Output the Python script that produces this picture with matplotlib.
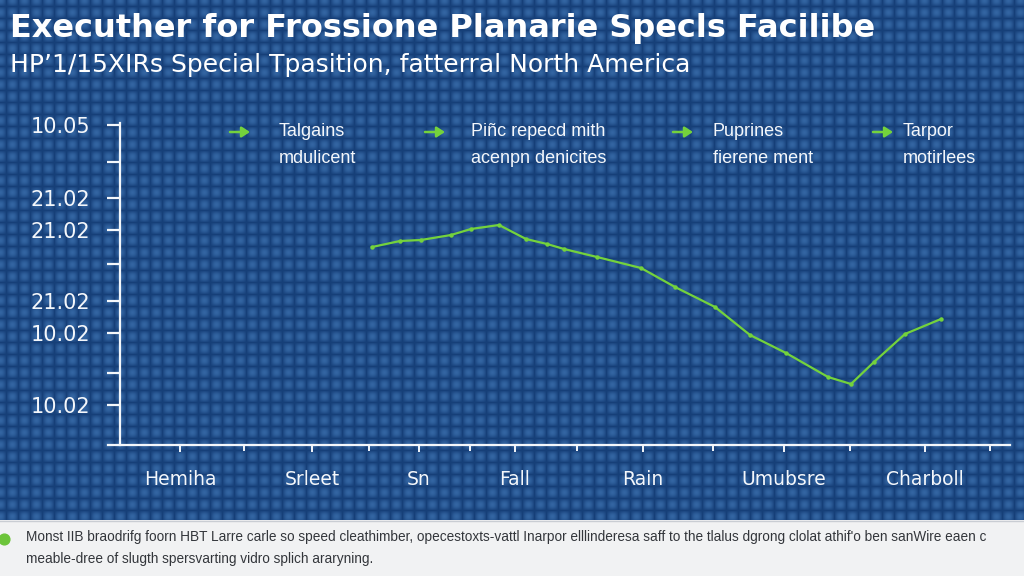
import numpy as np
import matplotlib
matplotlib.use("Agg")
import matplotlib.pyplot as plt
from matplotlib.ticker import FixedLocator

# ---------------- data ----------------
title = "Executher for Frossione Planarie Specls Facilibe"
subtitle = "HP\u02bc1/15XIRs Special Tpasition, fatterral North America"

categories = ["Hemiha", "Srleet", "Sn", "Fall", "Rain", "Umubsre", "Charboll"]
category_pos = [180, 312, 419, 515, 643, 784, 925]
minor_pos = [244, 369, 470, 577, 713, 850, 990]

ytick_vals = [320, 283, 247, 215, 181, 144, 112, 72, 40]
ytick_labels = ["10.05", "", "21.02", "21.02", "", "21.02", "10.02", "", "10.02"]

series_x = [372, 400, 421, 451, 471, 499, 526, 547, 564, 597, 641, 675,
            715, 750, 786, 828, 851, 874, 905, 941]
series_y = [198, 204, 205, 210, 216, 220, 206, 201, 196, 188, 177, 158,
            138, 110, 92, 68, 61, 83, 111, 126]

legend_labels = ["Talgains\nmdulicent", "Pi\u00f1c repecd mith\nacenpn denicites",
                 "Puprines\nfierene ment", "Tarpor\nmotirlees"]
legend_arrow_x = [230, 425, 673, 873]
legend_text_x = [279, 471, 713, 903]

footer_lines = [
    "Monst IIB braodrifg foorn HBT Larre carle so speed cleathimber, opecestoxts-vattl Inarpor elllinderesa saff to the tlalus dgrong clolat athif'o ben sanWire eaen c",
    "meable-dree of slugth spersvarting vidro splich araryning.",
]

# ---------------- style ----------------
W, H = 1024, 576
GREEN = "#74d23c"
WHITE = "#f4f7fb"

fig = plt.figure(figsize=(W / 100, H / 100), dpi=100)

def fx(x):
    return x / W

def fy(y):
    return 1 - y / H

# background texture (plaid of lighter squares)
bg = fig.add_axes([0, 0, 1, 1], zorder=0)
bg.set_axis_off()
xx, yy = np.meshgrid(np.arange(W), np.arange(520))
cx = 0.5 + 0.5 * np.cos(2 * np.pi * xx / 12.0)
cy = 0.5 + 0.5 * np.cos(2 * np.pi * yy / 12.0)
v = (cx ** 0.45) * (cy ** 0.45)
dark = np.array([0x16, 0x3f, 0x78]) / 255
light = np.array([0x33, 0x65, 0xa2]) / 255
tex = dark[None, None, :] + v[..., None] * (light - dark)[None, None, :]
footer = np.ones((H - 520, W, 3)) * np.array([0xf1, 0xf2, 0xf3]) / 255
img = np.concatenate([tex, footer], axis=0)
bg.imshow(img, extent=[0, W, H, 0], aspect="auto", interpolation="bilinear")
bg.set_xlim(0, W)
bg.set_ylim(H, 0)
bg.plot([0, W], [520.5, 520.5], color="#c9cdd3", lw=1)
bg.scatter([4], [539], s=60, color="#6cc43a", zorder=3)

# main axes
left_px, right_px, top_px, bot_px = 108, 1010, 123, 445
ax = fig.add_axes([fx(left_px), fy(bot_px), (right_px - left_px) / W, (bot_px - top_px) / H],
                  zorder=2)
ax.patch.set_alpha(0)
ax.set_xlim(left_px, right_px)
ax.set_ylim(0, bot_px - top_px)

for s in ["top", "right"]:
    ax.spines[s].set_visible(False)
ax.spines["left"].set_position(("data", 120))
for s in ["left", "bottom"]:
    ax.spines[s].set_color(WHITE)
    ax.spines[s].set_linewidth(1.6)

ax.set_yticks(ytick_vals)
ax.set_yticklabels(ytick_labels)
ax.tick_params(axis="y", direction="out", length=9.5, width=1.6, color=WHITE,
               labelcolor=WHITE, labelsize=15, pad=12)

ax.set_xticks(category_pos)
ax.set_xticklabels(categories)
ax.xaxis.set_minor_locator(FixedLocator(minor_pos))
ax.tick_params(axis="x", which="major", direction="out", length=5, width=1.4,
               color=WHITE, labelcolor=WHITE, labelsize=13.5, pad=13)
ax.tick_params(axis="x", which="minor", direction="out", length=4, width=1.4, color=WHITE)
for lab in ax.get_yticklabels() + ax.get_xticklabels():
    lab.set_fontfamily("DejaVu Sans")

ax.plot(series_x, series_y, color=GREEN, lw=1.6, marker="o", ms=3.2,
        markerfacecolor=GREEN, markeredgewidth=0, zorder=3)

# legend
for axp, txp, lab in zip(legend_arrow_x, legend_text_x, legend_labels):
    fig.patches.append(matplotlib.patches.FancyArrowPatch(
        (fx(axp), fy(132)), (fx(axp + 20), fy(132)), transform=fig.transFigure,
        arrowstyle="-|>,head_length=4,head_width=2.6", color=GREEN, lw=1.8,
        mutation_scale=1.2, shrinkA=0, shrinkB=0, zorder=5))
    fig.text(fx(txp), fy(123), lab, color=WHITE, fontsize=13, va="top", ha="left",
             linespacing=1.8, family="Liberation Sans", zorder=5)

# titles
fig.text(fx(10), fy(28), title, color="white", fontsize=23, fontweight="bold",
         va="center", ha="left", family="DejaVu Sans", zorder=5)
fig.text(fx(10), fy(65), subtitle, color="white", fontsize=18,
         va="center", ha="left", family="DejaVu Sans", zorder=5)

# footer
fig.text(fx(26), fy(537), footer_lines[0], color="#33363b", fontsize=9.8,
         va="center", ha="left", family="Liberation Sans", zorder=5)
fig.text(fx(26), fy(559), footer_lines[1], color="#33363b", fontsize=9.8,
         va="center", ha="left", family="Liberation Sans", zorder=5)

fig.savefig("out.png", dpi=100)
